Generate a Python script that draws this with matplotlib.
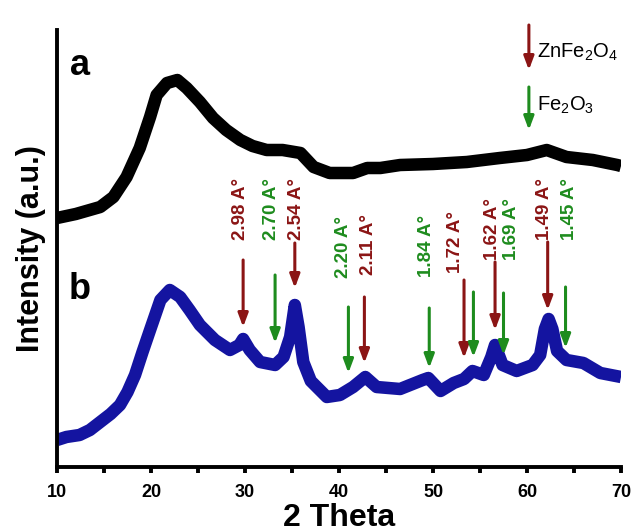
import matplotlib
matplotlib.use("Agg")
import matplotlib.pyplot as plt

# Fonts
plt.rcParams["font.family"] = ["Liberation Sans", "DejaVu Sans"]
plt.rcParams["mathtext.fontset"] = "custom"
plt.rcParams["mathtext.rm"] = "Liberation Sans"
plt.rcParams["mathtext.it"] = "Liberation Sans:italic"
plt.rcParams["mathtext.bf"] = "Liberation Sans:bold"

# Pattern a (black)
theta_a = [10, 12, 14.6, 16, 17.4, 18.8, 19.9, 20.6, 21.7, 22.8, 23.8, 25.2, 26.6, 28,
           29.5, 30.8, 32.3, 34, 35.9, 37.3, 39, 41.5, 43, 44.4, 46.5, 50, 53.6, 57.1,
           60, 62.1, 64.2, 67, 69.6, 70]
intensity_a = [249, 253, 260, 270, 290, 319, 350, 372, 384, 387, 379, 365, 349, 337,
               327, 321, 317, 317, 314, 300, 294, 294, 299, 299, 302, 303, 305, 309,
               312, 317, 310, 307, 302, 301]

# Pattern b (blue)
theta_b = [10, 11, 12.4, 13.5, 14.6, 15.7, 16.7, 17.5, 18.3, 19.1, 19.9, 21, 22, 23.1,
           24.1, 25.2, 26.8, 28.4, 29.4, 29.8, 30.5, 31.6, 33.2, 34.1, 34.8, 35.3, 35.7,
           36.2, 37, 38.7, 40.1, 41.5, 42.8, 44, 46.5, 48.9, 49.5, 50.8, 52.2, 53.3,
           54.2, 55.4, 56.2, 56.6, 57.4, 58.9, 60.6, 61.4, 61.9, 62.3, 62.7, 63.2, 64.2,
           66, 67.8, 70]
intensity_b = [27, 30, 32, 37, 45, 53, 62, 75, 92, 115, 137, 167, 177, 170,
               157, 142, 127, 117, 122, 128, 117, 105, 102, 110, 130, 162, 140,
               105, 86, 70, 72, 80, 90, 80, 78, 87, 89, 76, 84, 88,
               96, 92, 110, 122, 102, 96, 102, 112, 138, 148, 138, 116, 107,
               104, 94, 90]

# ZnFe2O4 markers: position, arrow top, arrow tip, label
zn_pos = [29.8, 35.3, 42.7, 53.3, 56.6, 62.2]
zn_top = [207, 224, 170, 187, 205, 225]
zn_tip = [140, 179, 104, 109, 137, 157]
zn_labels = ["2.98", "2.54", "2.11", "1.72", "1.62", "1.49"]
zn_label_x = [29.47, 35.53, 43.09, 52.34, 56.38, 61.9]
zn_label_y = [227, 227, 192, 194, 207, 227]

# Fe2O3 markers
fe_pos = [33.2, 41.0, 49.6, 54.3, 57.5, 64.1]
fe_top = [192, 160, 159, 175, 174, 180]
fe_tip = [124, 94, 99, 110, 112, 119]
fe_labels = ["2.70", "2.20", "1.84", "1.69", "1.45"]
fe_label_x = [32.87, 40.43, 49.36, 58.4, 64.57]
fe_label_y = [227, 189, 190, 207, 227]

brown = "#8b1515"
green = "#1e8c1e"
blue = "#1414a0"

fig = plt.figure(figsize=(6.32, 5.32), dpi=100)
ax = fig.add_axes([0.0902, 0.1222, 0.8924, 0.8214])

# Curves
ax.plot(theta_a, intensity_a, color="black", lw=9, solid_joinstyle="round",
        solid_capstyle="butt")
ax.plot(theta_b, intensity_b, color=blue, lw=9, solid_joinstyle="round",
        solid_capstyle="butt")

# Arrows
def draw_arrow(x, top, tip, color):
    ax.annotate("", xy=(x, tip), xytext=(x, top),
                arrowprops=dict(arrowstyle="-|>,head_width=0.3,head_length=0.8",
                                lw=2.2, color=color, shrinkA=0, shrinkB=0))

for x, t, p in zip(zn_pos, zn_top, zn_tip):
    draw_arrow(x, t, p, brown)
for x, t, p in zip(fe_pos, fe_top, fe_tip):
    draw_arrow(x, t, p, green)

# d-spacing labels
for x, y, s in zip(zn_label_x, zn_label_y, zn_labels):
    ax.text(x, y, s + " A°", rotation=90, ha="center", va="bottom",
            color=brown, fontsize=13.5, fontweight="bold")
for x, y, s in zip(fe_label_x, fe_label_y, fe_labels):
    ax.text(x, y, s + " A°", rotation=90, ha="center", va="bottom",
            color=green, fontsize=13.5, fontweight="bold")

# Legend made of arrows
draw_arrow(60.2, 442, 397, brown)
draw_arrow(60.2, 380, 337, green)
ax.text(61.1, 415, r"ZnFe$_2$O$_4$", fontsize=14.5, va="center", ha="left")
ax.text(61.1, 362, r"Fe$_2$O$_3$", fontsize=14.5, va="center", ha="left")

# Panel letters
ax.text(12.45, 402, "a", fontsize=26, fontweight="bold", ha="center", va="center")
ax.text(12.45, 177, "b", fontsize=26, fontweight="bold", ha="center", va="center")

# Axes styling
ax.set_xlim(10, 70)
ax.set_ylim(0, 437)
ax.set_xticks(range(10, 71, 10))
ax.set_xticks(range(15, 70, 10), minor=True)
ax.set_yticks([])
for side in ["top", "right"]:
    ax.spines[side].set_visible(False)
for side in ["left", "bottom"]:
    ax.spines[side].set_linewidth(2.8)
ax.tick_params(axis="x", which="both", direction="out", length=4, width=2.8,
               labelsize=13, pad=8)
for lab in ax.get_xticklabels():
    lab.set_fontweight("bold")

ax.set_xlabel("2 Theta", fontsize=23, fontweight="bold", labelpad=2)
ax.set_ylabel("Intensity (a.u.)", fontsize=22, fontweight="bold", labelpad=8)

plt.savefig("out.png", dpi=100)
